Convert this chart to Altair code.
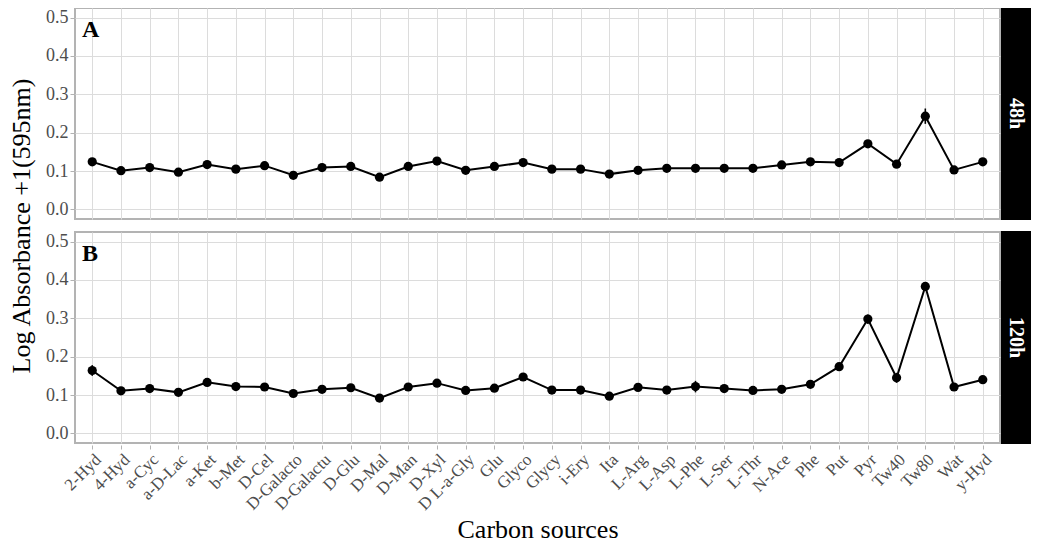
import altair as alt
import pandas as pd

sources = ["2-Hyd", "4-Hyd", "a-Cyc", "a-D-Lac", "a-Ket", "b-Met", "D-Cel", "D-Galacto",
           "D-Galactu", "D-Glu", "D-Mal", "D-Man", "D-Xyl", "D L-a-Gly", "Glu", "Glyco",
           "Glycy", "i-Ery", "Ita", "L-Arg", "L-Asp", "L-Phe", "L-Ser", "L-Thr", "N-Ace",
           "Phe", "Put", "Pyr", "Tw40", "Tw80", "Wat", "y-Hyd"]

mean_48h = [0.124, 0.101, 0.109, 0.097, 0.117, 0.105, 0.114, 0.089, 0.109, 0.112, 0.084,
            0.112, 0.126, 0.102, 0.112, 0.122, 0.105, 0.105, 0.092, 0.102, 0.107, 0.107,
            0.107, 0.107, 0.116, 0.124, 0.122, 0.171, 0.118, 0.243, 0.103, 0.124]
se_48h = [0.004, 0.003, 0.003, 0.003, 0.003, 0.003, 0.003, 0.003, 0.003, 0.003, 0.003,
          0.003, 0.003, 0.003, 0.003, 0.003, 0.003, 0.003, 0.003, 0.003, 0.003, 0.003,
          0.003, 0.003, 0.003, 0.003, 0.003, 0.006, 0.004, 0.02, 0.003, 0.003]

mean_120h = [0.164, 0.111, 0.117, 0.107, 0.133, 0.122, 0.121, 0.104, 0.115, 0.119, 0.092,
             0.121, 0.131, 0.112, 0.118, 0.147, 0.113, 0.113, 0.097, 0.120, 0.113, 0.122,
             0.117, 0.112, 0.115, 0.128, 0.174, 0.298, 0.145, 0.383, 0.121, 0.140]
se_120h = [0.014, 0.003, 0.003, 0.003, 0.004, 0.003, 0.003, 0.003, 0.003, 0.003, 0.003,
           0.003, 0.003, 0.003, 0.003, 0.005, 0.003, 0.003, 0.003, 0.003, 0.003, 0.015,
           0.003, 0.003, 0.003, 0.003, 0.004, 0.012, 0.013, 0.006, 0.003, 0.003]

times = ["48h", "120h"]
panels = ["A", "B"]
y_ticks = [0.0, 0.05, 0.1, 0.15, 0.2, 0.25, 0.3, 0.35, 0.4, 0.45, 0.5]

rows = []
for t, p, m, s in [(times[0], panels[0], mean_48h, se_48h), (times[1], panels[1], mean_120h, se_120h)]:
    for src, mv, sv in zip(sources, m, s):
        rows.append({"source": src, "time": t, "panel": p, "mean": mv,
                     "lo": mv - sv, "hi": mv + sv})
df = pd.DataFrame(rows)

W, H = 925, 211
FONT = "Liberation Serif"
major = "abs(datum.value*10 - round(datum.value*10)) < 0.001"

x_enc = alt.X("source:N", sort=sources,
              scale=alt.Scale(type="point", padding=0.6),
              axis=alt.Axis(title="Carbon sources", labelAngle=-45, labelFontSize=17,
                            labelColor="#4d4d4d", labelFont=FONT, titleFont=FONT,
                            titleFontSize=26, titleFontWeight="normal", titleColor="black",
                            titlePadding=4, tickColor="#b3b3b3", tickSize=4, labelPadding=2,
                            domain=False, grid=True, gridColor="#dcdcdc", gridWidth=1,
                            labelOverlap=False))
y_scale = alt.Scale(domain=[-0.025, 0.525], nice=False, zero=False)
y_enc = alt.Y("mean:Q", scale=y_scale,
              axis=alt.Axis(title=None, values=y_ticks,
                            labelExpr=major + " ? format(datum.value, '.1f') : ''",
                            labelFontSize=18, labelColor="#4d4d4d", labelFont=FONT,
                            tickColor={"condition": {"test": major, "value": "#b3b3b3"},
                                       "value": "transparent"},
                            tickSize=4, labelPadding=2, domain=False, grid=True,
                            gridColor="#dcdcdc", gridWidth=1))

err = alt.Chart().mark_rule(color="black", strokeWidth=1.6).encode(
    x=x_enc, y=alt.Y("lo:Q", scale=y_scale), y2="hi:Q")
line = alt.Chart().mark_line(color="black", strokeWidth=2).encode(x=x_enc, y=y_enc)
pts = alt.Chart().mark_circle(color="black", size=85, opacity=1).encode(x=x_enc, y=y_enc)

strip = alt.Chart().transform_aggregate(
    n="count()", groupby=["time"]
).mark_rect(color="black").encode(
    x=alt.value(W + 1), x2=alt.value(W + 31), y=alt.value(-1), y2=alt.value(H + 1))
strip_text = alt.Chart().transform_aggregate(
    n="count()", groupby=["time"]
).mark_text(angle=90, color="white", fontWeight="bold", font=FONT, fontSize=20,
            align="center", baseline="middle").encode(
    x=alt.value(W + 16), y=alt.value(H / 2), text="time:N")
plabel = alt.Chart().transform_aggregate(
    n="count()", groupby=["time", "panel"]
).mark_text(align="left", baseline="top", fontWeight="bold", font=FONT, fontSize=24,
            color="black").encode(
    x=alt.value(7), y=alt.value(10), text="panel:N")

chart = alt.layer(err, line, pts, strip, strip_text, plabel, data=df).properties(
    width=W, height=H
).facet(
    row=alt.Row("time:N", sort=times,
                header=alt.Header(title="Log Absorbance +1(595nm)", titleOrient="left",
                                  titleFont=FONT, titleFontSize=26,
                                  titleFontWeight="normal", titleColor="black",
                                  titlePadding=0, labels=False)),
    spacing=9
).configure(
    font=FONT, padding={"left": 0, "top": -2, "right": 0, "bottom": 0}, background="white"
).configure_view(
    stroke="#b3b3b3", strokeWidth=2
).configure_axis(
    labelFont=FONT, titleFont=FONT
).configure_header(
    titleFont=FONT, labelFont=FONT
)

chart.save("out.html", embed_options={"renderer": "svg", "actions": False})
